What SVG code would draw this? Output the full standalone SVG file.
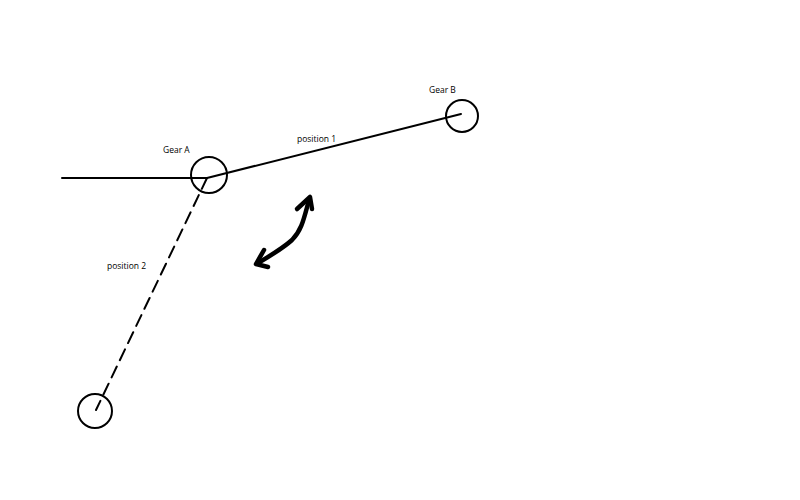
<svg xmlns="http://www.w3.org/2000/svg" width="800" height="500" viewBox="0 0 800 500">
<style>
.g{fill:none;stroke:#000;stroke-width:2}
.l{fill:none;stroke:#000;stroke-width:2;stroke-linecap:round}
.t{font-family:"Open Sans","Liberation Sans",sans-serif;font-size:8.5px;fill:#000}
.a{fill:none;stroke:#000;stroke-width:4.5;stroke-linecap:round;stroke-linejoin:round}
</style>
<rect width="800" height="500" fill="#fff"/>
<g id="connectors">
<line class="l" x1="62" y1="178" x2="207" y2="178"/>
<line class="l" x1="207" y1="178" x2="461" y2="114"/>
<line class="l" x1="207" y1="178" x2="96" y2="410" stroke-dasharray="12,7"/>
<path class="a" d="M309,200 C304,218 302,230 292,240 C282,249 270,256 258,263"/>
<path class="a" d="M297,209 L310,197 L312,209"/>
<path class="a" d="M264,250 L256,264 L268,267"/>
</g>
<g id="gearA">
<circle class="g" cx="209" cy="175" r="18"/>
<text class="t" x="163" y="153">Gear A</text>
</g>
<g id="gearB">
<circle class="g" cx="462" cy="116" r="16"/>
<text class="t" x="429" y="93">Gear B</text>
</g>
<g id="gearPos2">
<circle class="g" cx="95" cy="411" r="17"/>
</g>
<text class="t" x="297" y="142">position 1</text>
<text class="t" x="107" y="269">position 2</text>
</svg>
